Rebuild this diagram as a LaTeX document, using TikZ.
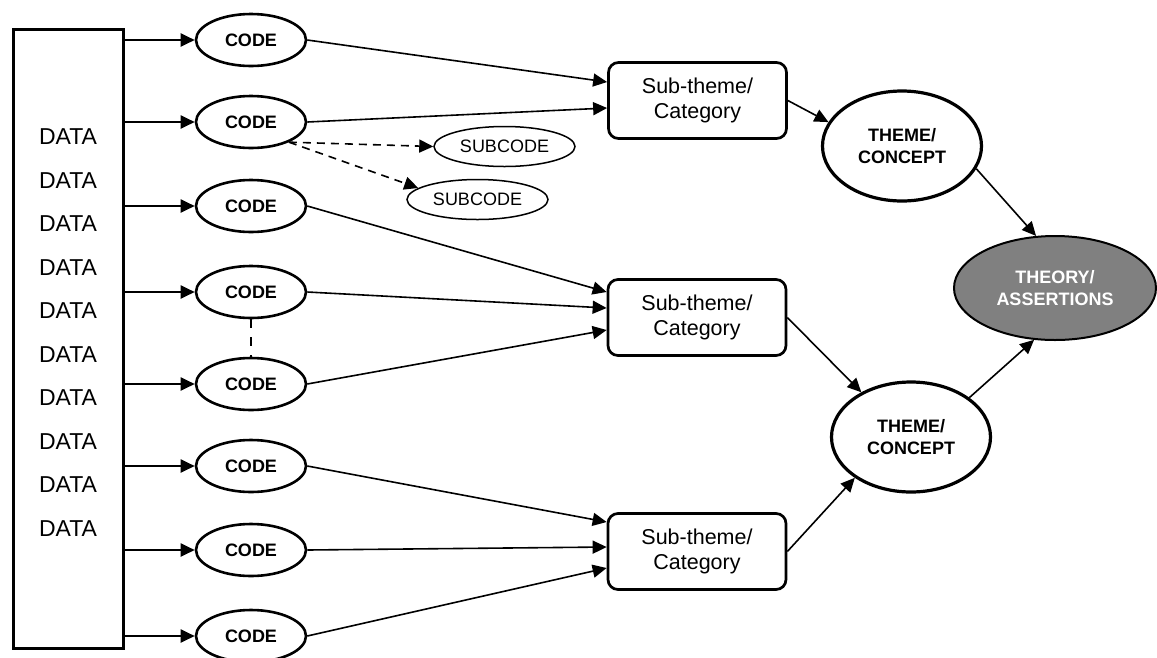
\documentclass[tikz,border=0pt]{standalone}
\usepackage{fontspec}
\setmainfont{Liberation Sans}
\usetikzlibrary{arrows.meta,shapes.geometric,calc}
\begin{document}
\begin{tikzpicture}[x=1pt,y=-1pt,
  tip/.style={-{Triangle[length=14pt,width=13pt]}},
  conn/.style={line width=1.6pt,tip},
  feed/.style={line width=2pt,tip},
  datacol/.style={draw,line width=3pt,minimum width=110pt,minimum height=619pt,inner sep=0pt},
  datatext/.style={font=\fontsize{23}{27}\selectfont,inner sep=0pt},
  codenode/.style={ellipse,draw,line width=2.6pt,minimum width=110pt,minimum height=52pt,
    inner sep=0pt,font=\fontsize{18}{22}\selectfont\bfseries},
  subcode/.style={ellipse,draw,line width=1.5pt,minimum width=141pt,minimum height=40pt,
    inner sep=0pt,font=\fontsize{18}{22}\selectfont},
  catbox/.style={draw,rounded corners=10pt,line width=2.7pt,minimum width=178pt,
    minimum height=76pt,inner sep=0pt,align=center,font=\fontsize{21.5}{25}\selectfont},
  themenode/.style={ellipse,draw,line width=3.2pt,minimum width=159pt,minimum height=110pt,
    inner sep=0pt,align=center,font=\fontsize{18}{22.5}\selectfont\bfseries},
  theorynode/.style={ellipse,draw,fill=black!50,text=white,line width=2pt,minimum width=202pt,
    minimum height=104pt,inner sep=0pt,align=center,font=\fontsize{18}{21.5}\selectfont\bfseries}
]
\useasboundingbox (0,0) rectangle (1157,657);

% data column
\node[datacol] (data) at (68.5,339) {};
\foreach \i in {0,...,9}
  \node[datatext] (d\i) at (68,137+43.5*\i) {DATA};

% codes
\node[codenode] (c1) at (251,40) {CODE};
\node[codenode] (c2) at (251,122) {CODE};
\node[codenode] (c3) at (251,206) {CODE};
\node[codenode] (c4) at (251,292) {CODE};
\node[codenode] (c5) at (251,384) {CODE};
\node[codenode] (c6) at (251,466) {CODE};
\node[codenode] (c7) at (251,550) {CODE};
\node[codenode] (c8) at (251,636) {CODE};

% subcodes
\node[subcode] (s1) at (504.5,146.5) {SUBCODE};
\node[subcode] (s2) at (477.5,199.5) {SUBCODE};

% sub-themes
\node[catbox] (b1) at (697.5,100.5) {Sub-theme/\\Category};
\node[catbox] (b2) at (697,317.5) {Sub-theme/\\Category};
\node[catbox] (b3) at (697,551.5) {Sub-theme/\\Category};

% themes and theory
\node[themenode] (t1) at (902,146) {THEME/\\CONCEPT};
\node[themenode] (t2) at (911,437) {THEME/\\CONCEPT};
\node[theorynode] (th) at (1055,288) {THEORY/\\ASSERTIONS};

% data to codes
\foreach \c in {c1,c2,c3,c4,c5,c6,c7,c8}
  \draw[feed] (data.east |- \c.center) -- (\c.west);

% codes to sub-themes
\draw[conn] (c1.east) -- ([yshift=18.5pt]b1.west);
\draw[conn] (c2.east) -- ([yshift=-7.5pt]b1.west);
\draw[conn] (c3.east) -- ([yshift=25.5pt]b2.west);
\draw[conn] (c4.east) -- ([yshift=9.5pt]b2.west);
\draw[conn] (c5.east) -- ([yshift=-12.5pt]b2.west);
\draw[conn] (c6.east) -- ([yshift=29.5pt]b3.west);
\draw[conn] (c7.east) -- ([yshift=4.5pt]b3.west);
\draw[conn] (c8.east) -- ([yshift=-16.5pt]b3.west);

% code to subcodes
\draw[conn,dash pattern=on 8pt off 6pt] (c2.-28) -- (s1.west);
\draw[conn,dash pattern=on 8pt off 6pt] (c2.-28) -- (s2.169);

% link between related codes
\draw[line width=2.6pt,dash pattern=on 9pt off 9pt] (c4.south) -- (c5.north);

% sub-themes to themes
\draw[conn] (b1.east) -- (t1.162);
\draw[conn] (b2.east) -- (t2.138);
\draw[conn] (b3.east) -- (t2.216);

% themes to theory
\draw[conn] (t1.-17) -- (th.110);
\draw[conn] (t2.34) -- (th.248);
\end{tikzpicture}
\end{document}
